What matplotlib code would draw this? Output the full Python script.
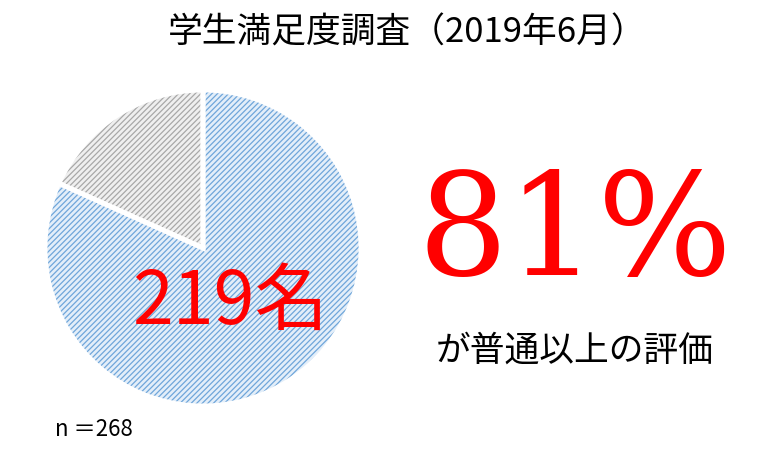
import matplotlib
matplotlib.use("Agg")
import matplotlib.pyplot as plt

plt.rcParams['font.family'] = ['Noto Sans CJK JP', 'DejaVu Sans']
plt.rcParams['hatch.linewidth'] = 0.9

# datos de la encuesta
etiquetas = ['普通以上', 'その他']
valores = [219, 49]
total = 268
colores_fondo = ['#E3EEF9', '#EFEFEF']
colores_trama = ['#6FA6DA', '#A8A8A8']

titulo = '学生満足度調査（2019年6月）'
porcentaje = f'{int(valores[0] / total * 100)}%'
subtitulo = 'が普通以上の評価'

fig = plt.figure(figsize=(7.68, 4.52), dpi=100)
ax = fig.add_axes([0, 0, 1, 1])
ax.set_aspect('equal')

centro = (203, 452 - 249)
radio = 158

cunas, _ = ax.pie(valores, colors=colores_fondo, startangle=90, counterclock=False,
                  center=centro, radius=radio, frame=True,
                  wedgeprops=dict(linewidth=0))
for w, c in zip(cunas, colores_trama):
    w.set_hatch('//////')
    w.set_edgecolor(c)

# bordes blancos encima
ax.pie(valores, colors=['none', 'none'], startangle=90, counterclock=False,
       center=centro, radius=radio, frame=True,
       wedgeprops=dict(linewidth=3.5, edgecolor='white'))
ax.set_xlim(0, 768)
ax.set_ylim(0, 452)
ax.axis('off')

ax.text(407, 452 - 33, titulo, ha='center', va='center', fontsize=25, color='black')
ax.text(230, 452 - 303, f'{valores[0]}名', ha='center', va='center', fontsize=53, color='#FF0000')
ax.text(575, 452 - 236, porcentaje, ha='center', va='center', fontsize=102, color='#FF0000',
        family=['DejaVu Serif'])
ax.text(575, 452 - 351, subtitulo, ha='center', va='center', fontsize=25, color='black')
ax.text(55, 452 - 430, f'n ＝{total}', ha='left', va='center', fontsize=16, color='black')

fig.savefig('out.png', dpi=100)
